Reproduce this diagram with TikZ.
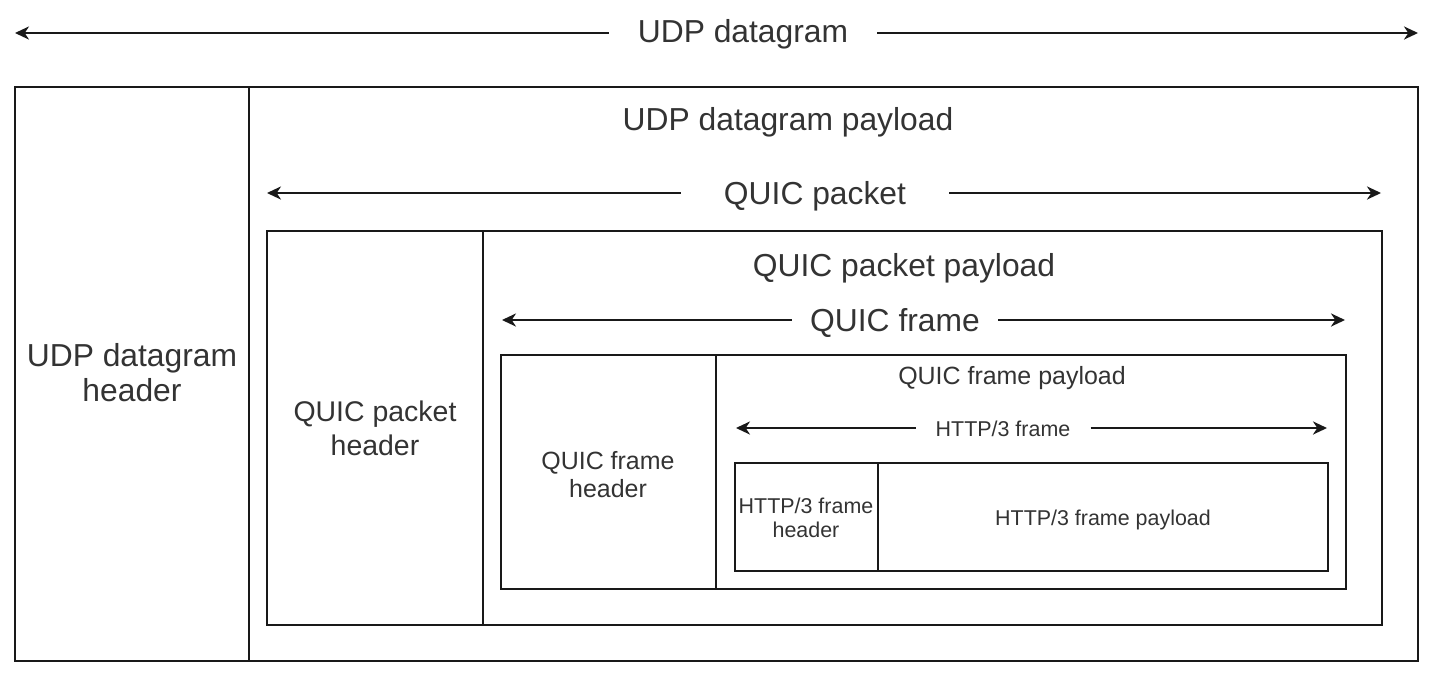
\documentclass[tikz,border=0pt]{standalone}
\usepackage{fontspec}
\setmainfont{Liberation Sans}
\usetikzlibrary{arrows.meta}
\begin{document}
\begin{tikzpicture}[x=0.02cm,y=-0.02cm,line width=1pt,
    tip/.style={-{Stealth[length=8pt,width=7.5pt,inset=2.5pt]},draw=black!90},
    lbl/.style={anchor=base,inner ysep=0pt,text=black!80},
    txt/.style={inner sep=0pt,text=black!80,align=center},
    big/.style={font=\fontsize{18.1}{19.8}\selectfont},
    mid/.style={font=\fontsize{16.2}{19.3}\selectfont},
    small/.style={font=\fontsize{14.2}{15.9}\selectfont},
    tiny/.style={font=\fontsize{12.2}{13.6}\selectfont}]
      \useasboundingbox (0,0) rectangle (1434,677);
      % boxes
      \draw[black!90] (15,87) rectangle (1418,661) (249,87) -- (249,661);
      \draw[black!90] (267,231) rectangle (1382,625) (483,231) -- (483,625);
      \draw[black!90] (501,355) rectangle (1346,589) (716,355) -- (716,589);
      \draw[black!90] (735,463) rectangle (1328,571) (878,463) -- (878,571);
      % spans
      \coordinate (dgL) at (15,33);
      \coordinate (dgR) at (1418,33);
      \node [lbl,big,inner xsep=16pt] (dg) at (743,42) {UDP datagram};
      \draw [tip] (dg.west |- dgL) -- (dgL);
      \draw [tip] (dg.east |- dgR) -- (dgR);
      \coordinate (pkL) at (267,193);
      \coordinate (pkR) at (1381,193);
      \node [lbl,big,inner xsep=24pt] (pk) at (815,204.5) {QUIC packet};
      \draw [tip] (pk.west |- pkL) -- (pkL);
      \draw [tip] (pk.east |- pkR) -- (pkR);
      \coordinate (frL) at (502,320);
      \coordinate (frR) at (1345,320);
      \node [lbl,big,inner xsep=10pt] (fr) at (895,331.5) {QUIC frame};
      \draw [tip] (fr.west |- frL) -- (frL);
      \draw [tip] (fr.east |- frR) -- (frR);
      \coordinate (htL) at (736,428);
      \coordinate (htR) at (1327,428);
      \node [lbl,tiny,inner xsep=11pt] (ht) at (1003,436) {HTTP/3 frame};
      \draw [tip] (ht.west |- htL) -- (htL);
      \draw [tip] (ht.east |- htR) -- (htR);
      % texts
      \node [lbl,big,inner sep=0pt] (dgpay) at (788,130) {UDP datagram payload};
      \node [txt,big] (dghead) at (132,373) {UDP datagram\\header};
      \node [lbl,big,inner sep=0pt] (pkpay) at (904,276.5) {QUIC packet payload};
      \node [txt,mid] (pkhead) at (375,428) {QUIC packet\\header};
      \node [lbl,small,inner sep=0pt] (frpay) at (1012,384) {QUIC frame payload};
      \node [txt,small] (frhead) at (608,475) {QUIC frame\\header};
      \node [lbl,tiny,inner sep=0pt] (htpay) at (1103,525) {HTTP/3 frame payload};
      \node [txt,tiny] (hthead) at (806,518) {HTTP/3 frame\\header};
    \end{tikzpicture}
\end{document}
